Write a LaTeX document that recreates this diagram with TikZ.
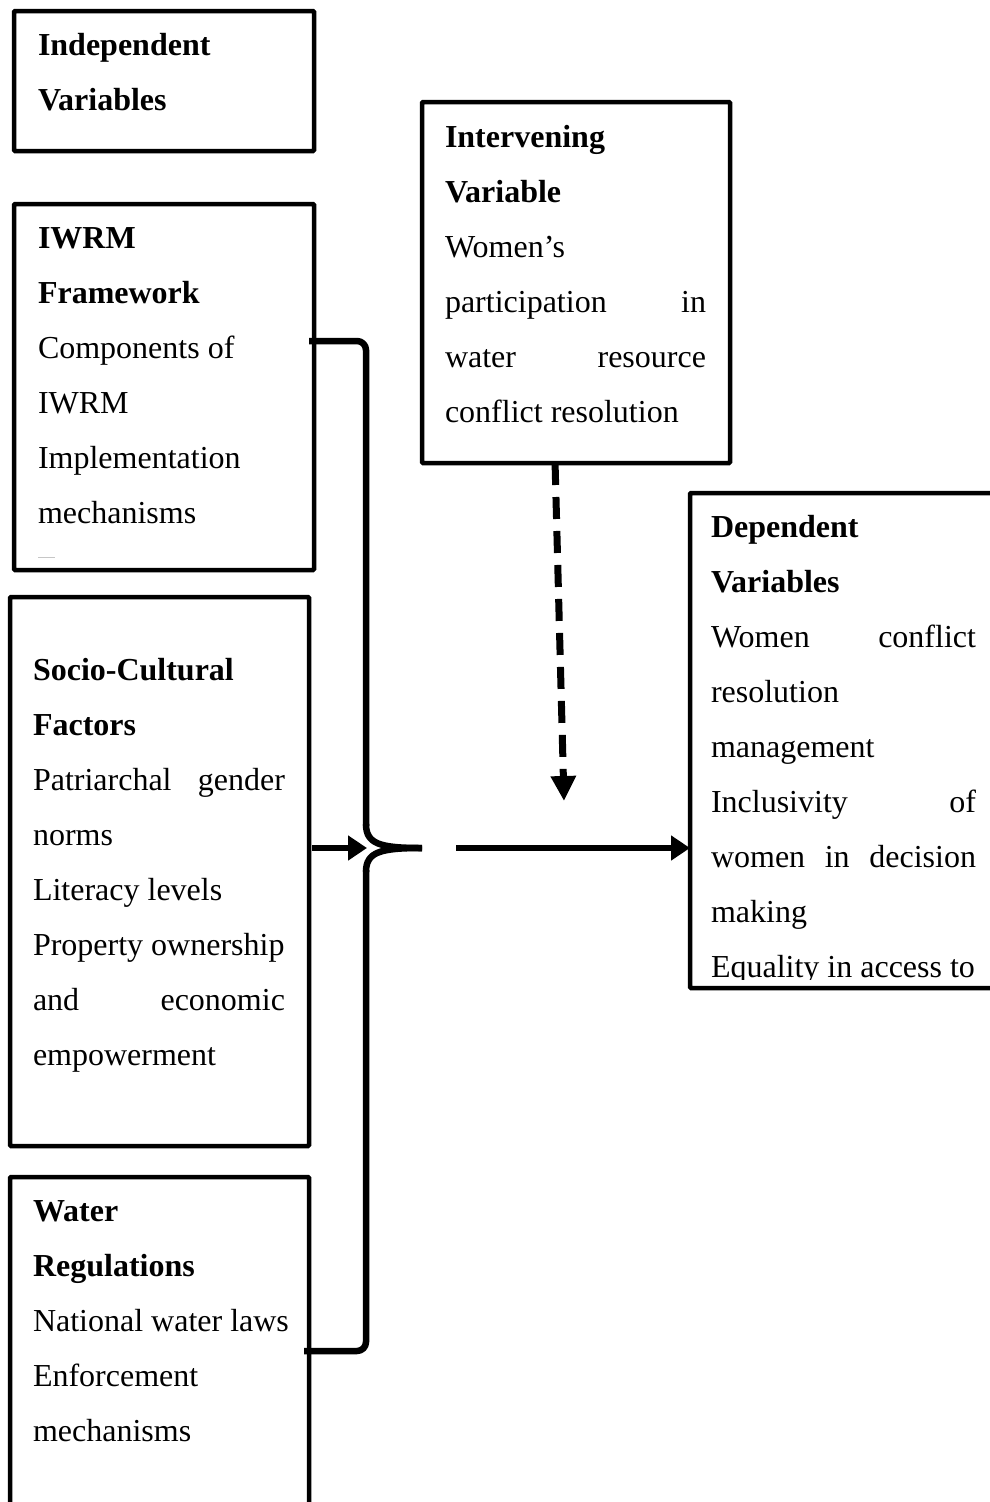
\documentclass[tikz,border=0pt]{standalone}
\usepackage{fontspec}
\setmainfont{Liberation Serif}
\usetikzlibrary{arrows.meta,calc}
\newcommand{\jline}[2]{\hbox to #1{#2}}
\begin{document}
\begin{tikzpicture}[x=1pt,y=-1pt,
  box/.style={draw, line width=4.5pt, inner sep=0pt, outer sep=0pt, anchor=north west, rounded corners=1pt},
  txt/.style={anchor=base west, inner sep=0pt, outer sep=0pt, align=left, font=\fontsize{32}{55}\selectfont},
  brace/.style={line width=6.5pt, line cap=butt, line join=round},
  arr/.style={line width=6pt, -{Triangle[length=19pt,width=24pt]}},
  dasharr/.style={line width=7pt, dash pattern=on 22pt off 12pt, -{Triangle[length=25pt,width=24pt]}}]
\useasboundingbox (0,0) rectangle (989,1502);
\fill[white] (0,0) rectangle (989,1502);

% boxes
\node[box, minimum width=300pt, minimum height=140pt] (indep) at (14,11) {};
\node[box, minimum width=300pt, minimum height=366pt] (iwrm) at (14,204) {};
\node[box, minimum width=299pt, minimum height=549pt] (socio) at (10,597) {};
\node[box, minimum width=299pt, minimum height=400pt] (water) at (10,1177) {};
\node[box, minimum width=308pt, minimum height=361pt] (interv) at (422,102) {};
\node[box, minimum width=320pt, minimum height=495pt] (dep) at (690,493) {};

% texts (anchored at the baseline of their last line)
\node[txt] (indeptxt) at (38,110) {\textbf{Independent}\\\textbf{Variables}};
\node[txt] (iwrmtxt) at (38,523) {\textbf{IWRM}\\\textbf{Framework}\\Components of\\IWRM\\Implementation\\mechanisms};
\draw[gray!45, line width=1pt] (38,557) -- (55,557);
\node[txt] (sociotxt) at (33,1065) {\textbf{Socio-Cultural}\\\textbf{Factors}\\\jline{252pt}{Patriarchal\hfill gender}\\norms\\Literacy levels\\Property ownership\\\jline{252pt}{and\hfill economic}\\empowerment};
\node[txt] (watertxt) at (33,1441) {\textbf{Water}\\\textbf{Regulations}\\National water laws\\Enforcement\\mechanisms};
\node[txt] (intervtxt) at (445,422) {\textbf{Intervening}\\\textbf{Variable}\\Women’s\\\jline{261pt}{participation\hfill in}\\\jline{261pt}{water\hfill resource}\\conflict resolution};
\begin{scope}
  \clip (690,493) rectangle (1000,979);
  \node[txt] (deptxt) at (711,977) {\textbf{Dependent}\\\textbf{Variables}\\\jline{265pt}{Women\hfill conflict}\\resolution\\management\\\jline{265pt}{Inclusivity\hfill of}\\\jline{265pt}{women\hfill in\hfill decision}\\making\\Equality in access to};
\end{scope}

% brace
\coordinate (bt) at (366,341);
\coordinate (bb) at (366,1351);
\coordinate (bm) at (367,848);
\coordinate (bend) at (422,848);
\draw[brace, rounded corners=9pt] ([xshift=-5pt]iwrm.east |- bt) -- (bt) -- (366,826);
\draw[brace] (366,824) .. controls (366,844) and (380,848) .. (bend);
\draw[brace, rounded corners=9pt] ([xshift=-5pt]water.east |- bb) -- (bb) -- (366,870);
\draw[brace] (366,872) .. controls (366,852) and (380,848) .. (bend);

% arrows
\draw[arr] ([xshift=3pt]socio.east |- bm) -- (bm);
\coordinate (ms) at (456,848);
\draw[arr] (ms) -- (dep.west |- ms);
\coordinate (ds) at ($(interv.south west)!0.432!(interv.south east)$);
\coordinate (de) at (564,801);
\draw[dasharr] (ds) -- (de);
\end{tikzpicture}
\end{document}
